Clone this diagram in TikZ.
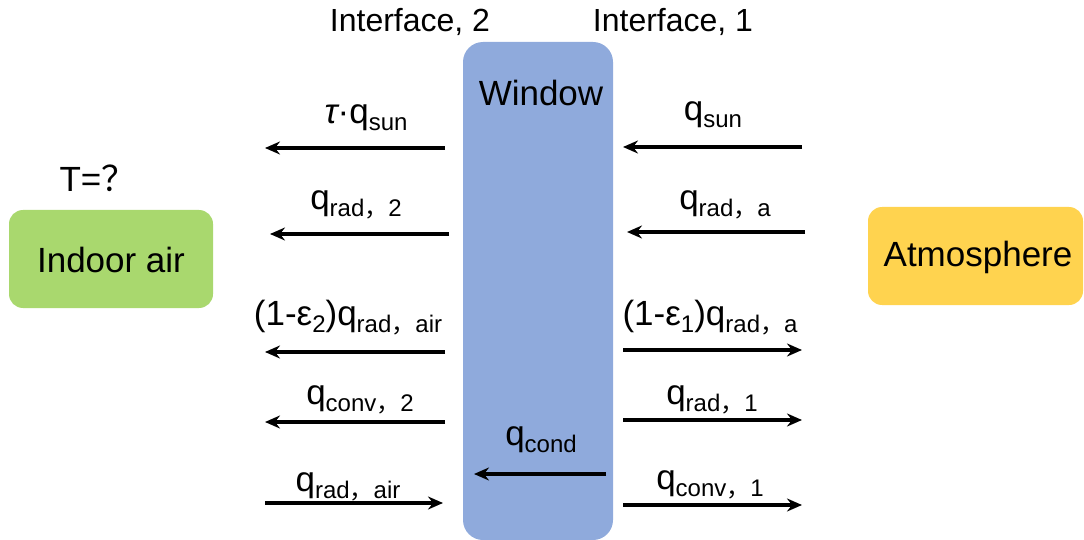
\documentclass[tikz,border=0pt]{standalone}
\usepackage{fontspec}
\setmainfont{Liberation Sans}
\newfontfamily\cjk{Noto Sans CJK SC}
\usetikzlibrary{arrows.meta}
\newcommand{\sbx}[1]{\raisebox{-0.2em}{\fontsize{24}{24}\selectfont #1}}
\newcommand{\fwc}{{\cjk ，}}
\definecolor{winblue}{HTML}{8FAADC}
\definecolor{airgreen}{HTML}{A9D86E}
\definecolor{atmgold}{HTML}{FFD34F}
\begin{document}
\begin{tikzpicture}[x=1pt,y=-1pt,
  lbl/.style={font=\fontsize{35}{40}\selectfont, inner sep=0pt},
  iflbl/.style={font=\fontsize{32}{36}\selectfont, inner sep=0pt},
  flow/.style={line width=3.8pt,-{Stealth[length=15pt,width=13pt,inset=5pt]}},
  boxstyle/.style={rounded corners=14pt, draw=none}]
\useasboundingbox (0,0) rectangle (1084,540);
% boxes
\fill[winblue, rounded corners=20pt] (463,42) rectangle (613,540);
\node[lbl] (win) at (541,93) {Window};
\fill[airgreen, boxstyle] (9,210) rectangle (213,308);
\node[lbl] (air) at (111,260) {Indoor air};
\fill[atmgold, boxstyle] (868,207) rectangle (1083,305);
\node[lbl] (atm) at (978,257) {Atmosphere};
\node[lbl] (tq) at (98,178) {T={\cjk ？}};
\node[iflbl] (if2) at (410,22) {Interface, 2};
\node[iflbl] (if1) at (673,22) {Interface, 1};
% left side
\coordinate (a1s) at (445,148); \coordinate (a1e) at (265,148);
\coordinate (a2s) at (449,234); \coordinate (a2e) at (270,234);
\coordinate (a3s) at (445,352); \coordinate (a3e) at (265,352);
\coordinate (a4s) at (445,422); \coordinate (a4e) at (265,422);
\coordinate (a5s) at (265,503); \coordinate (a5e) at (443,503);
\coordinate (a6s) at (606,474); \coordinate (a6e) at (474,474);
\draw[flow] (a1s) -- (a1e);
\draw[flow] (a2s) -- (a2e);
\draw[flow] (a3s) -- (a3e);
\draw[flow] (a4s) -- (a4e);
\draw[flow] (a5s) -- (a5e);
\draw[flow] (a6s) -- (a6e);
\node[lbl] (l1) at (366,118) {{\itshape τ}·q\sbx{sun}};
\node[lbl] (l2) at (356,205) {q\sbx{rad\fwc 2}};
\node[lbl] (l3) at (348,318) {(1-ε\sbx{2})q\sbx{rad\fwc air}};
\node[lbl] (l4) at (360,400) {q\sbx{conv\fwc 2}};
\node[lbl] (l5) at (348,487) {q\sbx{rad\fwc air}};
\node[lbl] (l6) at (541,440) {q\sbx{cond}};
% right side
\coordinate (b1s) at (802,147); \coordinate (b1e) at (623,147);
\coordinate (b2s) at (805,232); \coordinate (b2e) at (627,232);
\coordinate (b3s) at (623,350); \coordinate (b3e) at (802,350);
\coordinate (b4s) at (623,420); \coordinate (b4e) at (802,420);
\coordinate (b5s) at (623,505); \coordinate (b5e) at (802,505);
\draw[flow] (b1s) -- (b1e);
\draw[flow] (b2s) -- (b2e);
\draw[flow] (b3s) -- (b3e);
\draw[flow] (b4s) -- (b4e);
\draw[flow] (b5s) -- (b5e);
\node[lbl] (r1) at (713,115) {q\sbx{sun}};
\node[lbl] (r2) at (725,205) {q\sbx{rad\fwc a}};
\node[lbl] (r3) at (710,318) {(1-ε\sbx{1})q\sbx{rad\fwc a}};
\node[lbl] (r4) at (712,400) {q\sbx{rad\fwc 1}};
\node[lbl] (r5) at (710,485) {q\sbx{conv\fwc 1}};
\end{tikzpicture}
\end{document}
